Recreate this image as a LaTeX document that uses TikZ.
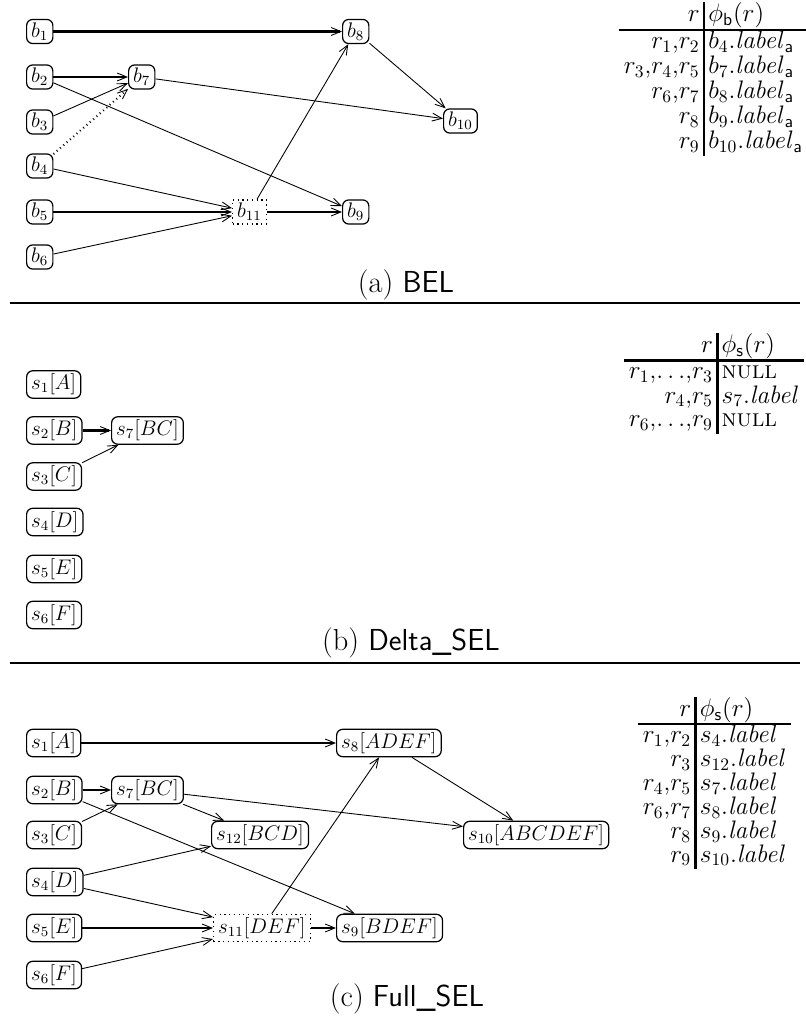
\documentclass[tikz,border=0pt]{standalone}
\usepackage{tikz}
\usetikzlibrary{arrows.meta}
\setlength{\arrayrulewidth}{1.4pt}
\setlength{\tabcolsep}{2.5pt}

\tikzset{
  blk/.style={draw,rounded corners=3.5pt,line width=0.7pt,inner xsep=2.6pt,inner ysep=1.8pt,font=\large},
  virt/.style={draw,dotted,line width=0.7pt,inner xsep=2.6pt,inner ysep=1.8pt,font=\large},
  lnk/.style={-{Straight Barb[length=5.5pt,width=4.5pt,line width=0.5pt]},line width=0.5pt},
  lnkthick/.style={lnk,line width=1.4pt},
  lnkdot/.style={lnk,dotted,line width=1.2pt},
  tabnode/.style={inner sep=0pt,anchor=north west},
  captxt/.style={anchor=base,font=\LARGE},
  sepline/.style={line width=1.5pt}
}

\begin{document}
\begin{tikzpicture}[x=1cm,y=1cm]
\path[use as bounding box] (0,0) rectangle (16.10,20.46);
% (a) BEL
\node[blk,anchor=west] (b1) at (0.52,19.83) {$b_1$};
\node[blk,anchor=west] (b2) at (0.52,18.92) {$b_2$};
\node[blk,anchor=west] (b3) at (0.52,18.02) {$b_3$};
\node[blk,anchor=west] (b4) at (0.52,17.14) {$b_4$};
\node[blk,anchor=west] (b5) at (0.52,16.22) {$b_5$};
\node[blk,anchor=west] (b6) at (0.52,15.32) {$b_6$};
\node[blk,anchor=west] (b7) at (2.56,18.92) {$b_7$};
\node[blk,anchor=west] (b8) at (6.84,19.83) {$b_8$};
\node[blk,anchor=west] (b9) at (6.84,16.22) {$b_9$};
\node[blk,anchor=west] (b10) at (8.86,18.04) {$b_{10}$};
\node[virt,anchor=west] (b11) at (4.64,16.22) {$b_{11}$};
\draw[lnkthick] (b1) -- (b8);
\draw[lnkthick] (b2) -- (b7);
\draw[lnk] (b3) -- (b7);
\draw[lnkdot] (b4) -- (b7);
\draw[lnk] (b2) -- (b9);
\draw[lnk] (b4) -- (b11);
\draw[lnkthick] (b5) -- (b11);
\draw[lnk] (b6) -- (b11);
\draw[lnk] (b11) -- (b8);
\draw[lnkthick] (b11) -- (b9);
\draw[lnk] (b7) -- (b10);
\draw[lnk] (b8) -- (b10);
\node[tabnode,font=\fontsize{14}{14}\selectfont] (tabA) at (12.38,20.42) {%
\begin{tabular}{r|l}
$r$ & $\phi_{\mathsf{b}}(r)$ \\ \hline
$r_1$,$r_2$ & $b_4.\mathit{label}_{\mathsf{a}}$ \\
$r_3$,$r_4$,$r_5$ & $b_7.\mathit{label}_{\mathsf{a}}$ \\
$r_6$,$r_7$ & $b_8.\mathit{label}_{\mathsf{a}}$ \\
$r_8$ & $b_9.\mathit{label}_{\mathsf{a}}$ \\
$r_9$ & $b_{10}.\mathit{label}_{\mathsf{a}}$
\end{tabular}};
\node[captxt] (capA) at (8.12,14.60) {(a) \textsf{BEL}};
\draw[sepline] (0.20,14.40) -- (16.00,14.40);
% (b) Delta_SEL
\node[blk,anchor=west] (d1) at (0.52,12.77) {$s_1[A]$};
\node[blk,anchor=west] (d2) at (0.52,11.85) {$s_2[B]$};
\node[blk,anchor=west] (d3) at (0.52,10.93) {$s_3[C]$};
\node[blk,anchor=west] (d4) at (0.52,10.02) {$s_4[D]$};
\node[blk,anchor=west] (d5) at (0.52,9.08) {$s_5[E]$};
\node[blk,anchor=west] (d6) at (0.52,8.16) {$s_6[F]$};
\node[blk,anchor=west] (d7) at (2.22,11.85) {$s_7[BC]$};
\draw[lnkthick] (d2) -- (d7);
\draw[lnk] (d3) -- (d7);
\node[tabnode,font=\fontsize{14}{13.5}\selectfont] (tabB) at (12.48,13.80) {%
\begin{tabular}{r|l}
$r$ & $\phi_{\mathsf{s}}(r)$ \\ \hline
$r_1$,$\ldots$,$r_3$ & \textsc{null} \\
$r_4$,$r_5$ & $s_7.\mathit{label}$ \\
$r_6$,$\ldots$,$r_9$ & \textsc{null}
\end{tabular}};
\node[captxt] (capB) at (8.22,7.44) {(b) \textsf{Delta\_SEL}};
\draw[sepline] (0.20,7.20) -- (16.00,7.20);
% (c) Full_SEL
\node[blk,anchor=west] (f1) at (0.52,5.60) {$s_1[A]$};
\node[blk,anchor=west] (f2) at (0.52,4.66) {$s_2[B]$};
\node[blk,anchor=west] (f3) at (0.52,3.76) {$s_3[C]$};
\node[blk,anchor=west] (f4) at (0.52,2.82) {$s_4[D]$};
\node[blk,anchor=west] (f5) at (0.52,1.90) {$s_5[E]$};
\node[blk,anchor=west] (f6) at (0.52,0.96) {$s_6[F]$};
\node[blk,anchor=west] (f7) at (2.22,4.66) {$s_7[BC]$};
\node[blk,anchor=west] (f8) at (6.72,5.60) {$s_8[ADEF]$};
\node[blk,anchor=west] (f9) at (6.72,1.90) {$s_9[BDEF]$};
\node[blk,anchor=west] (f10) at (9.26,3.76) {$s_{10}[ABCDEF]$};
\node[virt,anchor=west] (f11) at (4.26,1.90) {$s_{11}[DEF]$};
\node[blk,anchor=west] (f12) at (4.22,3.76) {$s_{12}[BCD]$};
\draw[lnkthick] (f1) -- (f8);
\draw[lnkthick] (f2) -- (f7);
\draw[lnk] (f3) -- (f7);
\draw[lnk] (f7) -- (f12);
\draw[lnk] (f7) -- (f10);
\draw[lnk] (f2) -- (f9);
\draw[lnk] (f4) -- (f12);
\draw[lnk] (f4) -- (f11);
\draw[lnkthick] (f5) -- (f11);
\draw[lnk] (f6) -- (f11);
\draw[lnk] (f11) -- (f8);
\draw[lnkthick] (f11) -- (f9);
\draw[lnk] (f8) -- (f10);
\node[tabnode,font=\fontsize{14}{12}\selectfont] (tabC) at (12.76,6.52) {%
\begin{tabular}{r|l}
$r$ & $\phi_{\mathsf{s}}(r)$ \\ \hline
$r_1$,$r_2$ & $s_4.\mathit{label}$ \\
$r_3$ & $s_{12}.\mathit{label}$ \\
$r_4$,$r_5$ & $s_7.\mathit{label}$ \\
$r_6$,$r_7$ & $s_8.\mathit{label}$ \\
$r_8$ & $s_9.\mathit{label}$ \\
$r_9$ & $s_{10}.\mathit{label}$
\end{tabular}};
\node[captxt] (capC) at (8.14,0.32) {(c) \textsf{Full\_SEL}};
\end{tikzpicture}
\end{document}
